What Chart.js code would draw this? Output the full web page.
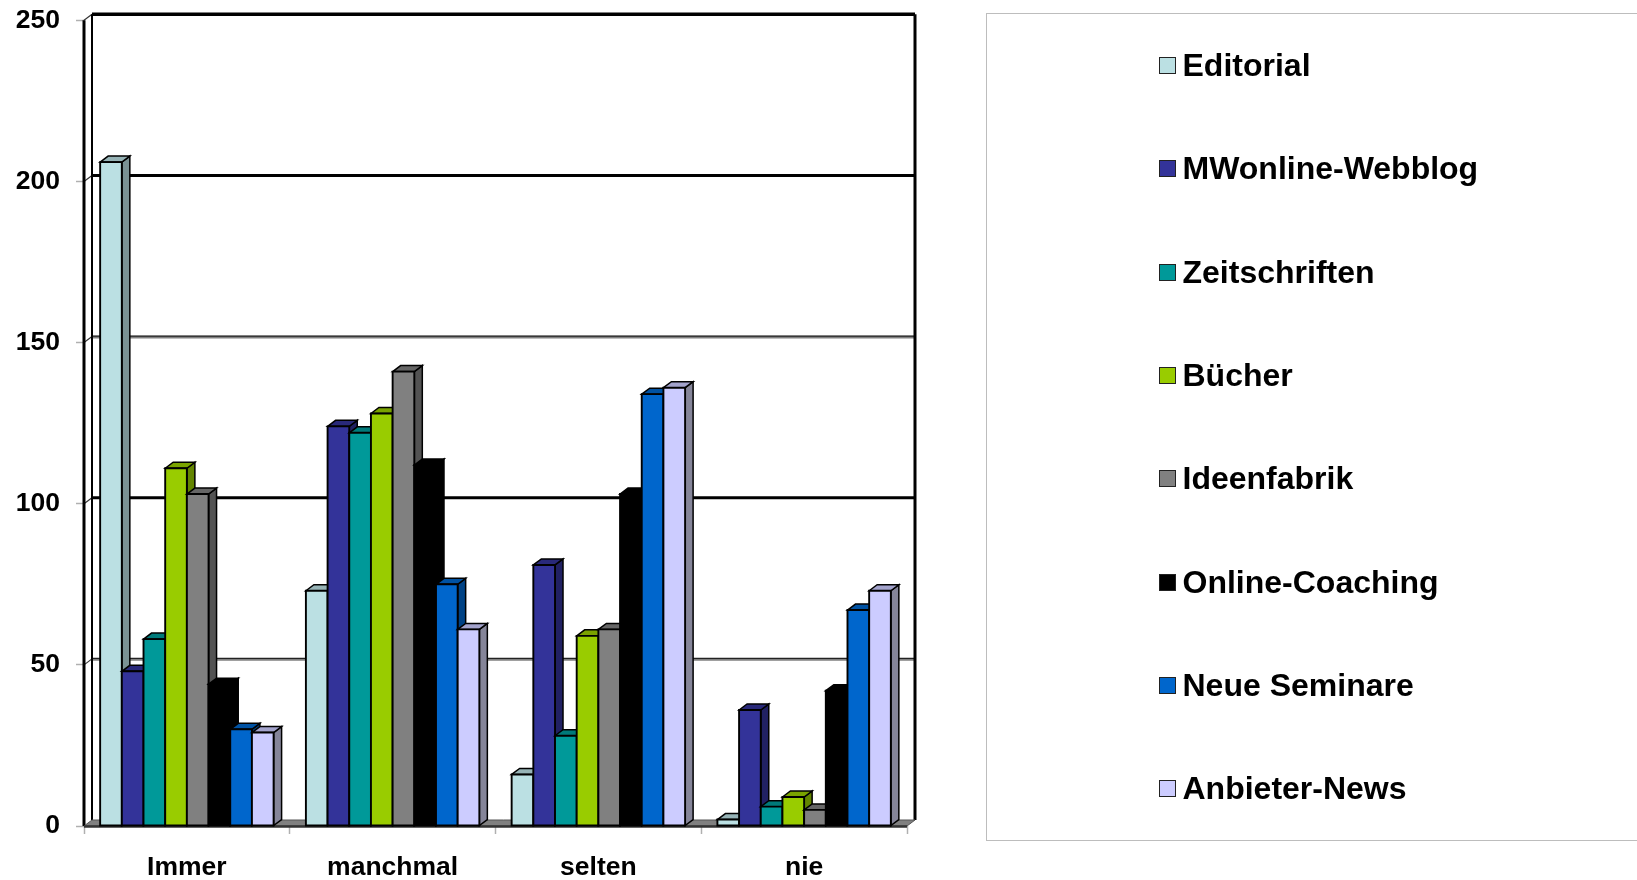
<!DOCTYPE html>
<html lang="de">
<head>
<meta charset="utf-8">
<title>Informationsquellen</title>
<script src="https://cdn.jsdelivr.net/npm/chart.js@4"></script>
<style>
  html, body { margin: 0; padding: 0; background: #fff; overflow: hidden; }
  #wrap { position: relative; width: 1637px; height: 880px; }
  #chart { position: absolute; left: 0; top: 0; }
  #legend {
    position: absolute; left: 986px; top: 13px; width: 660px; height: 828px;
    border: 1.5px solid #bdbdbd; box-sizing: border-box;
    font: bold 32px "Liberation Sans", Arial, sans-serif; color: #000;
  }
  .row { position: absolute; left: 172px; height: 40px; line-height: 40px; white-space: nowrap; }
  .swatch {
    position: absolute; left: 0; top: 12px; width: 15px; height: 15px;
    border: 1px solid #222; box-sizing: content-box;
  }
  .row span.name { margin-left: 23.5px; }
</style>
</head>
<body>
<div id="wrap">
  <canvas id="chart" width="1637" height="880"></canvas>
  <div id="legend"></div>
</div>
<script>
const categories = ['Immer', 'manchmal', 'selten', 'nie'];

const seriesNames = ['Editorial', 'MWonline-Webblog', 'Zeitschriften', 'Bücher',
  'Ideenfabrik', 'Online-Coaching', 'Neue Seminare', 'Anbieter-News'];

const editorial = [206, 73, 16, 2];
const mwonline = [48, 124, 81, 36];
const zeitschriften = [58, 122, 28, 6];
const buecher = [111, 128, 59, 9];
const ideenfabrik = [103, 141, 61, 5];
const onlineCoaching = [44, 112, 103, 42];
const neueSeminare = [30, 75, 134, 67];
const anbieterNews = [29, 61, 136, 73];

const seriesValues = [editorial, mwonline, zeitschriften, buecher,
  ideenfabrik, onlineCoaching, neueSeminare, anbieterNews];

// front colour, top face, side face
const frontColors = ['#BBE0E3', '#333399', '#009999', '#99CC00', '#808080', '#000000', '#0066CC', '#CCCCFF'];
const topColors = ['#96B3B6', '#29297A', '#007A7A', '#7AA300', '#666666', '#000000', '#0052A3', '#A3A3CC'];
const sideColors = ['#7A9294', '#212163', '#006363', '#638500', '#535353', '#000000', '#004285', '#858599'];

const DEPTH_X = 8;
const DEPTH_Y = 6;

function poly(ctx, pts, fill, stroke, lw) {
  ctx.beginPath();
  pts.forEach((p, i) => (i ? ctx.lineTo(p[0], p[1]) : ctx.moveTo(p[0], p[1])));
  ctx.closePath();
  if (fill) { ctx.fillStyle = fill; ctx.fill(); }
  if (stroke) { ctx.strokeStyle = stroke; ctx.lineWidth = lw; ctx.stroke(); }
}

function line(ctx, x1, y1, x2, y2, color, lw) {
  ctx.beginPath();
  ctx.moveTo(x1, y1);
  ctx.lineTo(x2, y2);
  ctx.strokeStyle = color;
  ctx.lineWidth = lw;
  ctx.stroke();
}

// Rueckwand, Boden und Gitternetz hinter den Balken
const wallPlugin = {
  id: 'wall',
  beforeDatasetsDraw(chart) {
    const ctx = chart.ctx;
    const { left, right, top, bottom } = chart.chartArea;
    const y = chart.scales.y;
    ctx.save();

    y.ticks.forEach(t => {
      const py = y.getPixelForValue(t.value);
      if (t.value === 0) return;
      const by = py - DEPTH_Y;
      if (t.value === 250) {
        line(ctx, left + DEPTH_X, by, right + DEPTH_X, by, '#000', 3.4);
      } else if (t.value % 100 === 0) {
        line(ctx, left + DEPTH_X, by, right + DEPTH_X, by, '#000', 3);
      } else {
        line(ctx, left + DEPTH_X, by + 0.5, right + DEPTH_X, by + 0.5, '#808080', 2.8);
        line(ctx, left + DEPTH_X, by - 0.5, right + DEPTH_X, by - 0.5, '#222', 1.2);
      }
      line(ctx, left, py, left + DEPTH_X, by, '#333', 1.2);
    });

    // Waende
    line(ctx, left + DEPTH_X, top - DEPTH_Y, left + DEPTH_X, bottom - DEPTH_Y, '#000', 2);
    line(ctx, left, top, left, bottom, '#000', 3);
    line(ctx, right + DEPTH_X, top - DEPTH_Y, right + DEPTH_X, bottom - DEPTH_Y, '#000', 3);

    // Boden
    poly(ctx, [[left, bottom], [right, bottom], [right + DEPTH_X, bottom - DEPTH_Y], [left + DEPTH_X, bottom - DEPTH_Y]],
      '#808080', '#555', 1);
    line(ctx, left, bottom + 0.5, right, bottom + 0.5, '#333', 2.5);
    ctx.restore();
  }
};

// 3D-Balken: von links nach rechts, der rechte Nachbar verdeckt die Seite
const bars3dPlugin = {
  id: 'bars3d',
  beforeDatasetDraw() {
    return false;
  },
  afterDatasetsDraw(chart) {
    const ctx = chart.ctx;
    ctx.save();
    ctx.lineJoin = 'miter';
    categories.forEach((c, ci) => {
      seriesValues.forEach((vals, si) => {
        const bar = chart.getDatasetMeta(si).data[ci];
        const l = bar.x - bar.width / 2;
        const r = bar.x + bar.width / 2;
        const t = bar.y;
        const b = bar.base;
        poly(ctx, [[r, t], [r + DEPTH_X, t - DEPTH_Y], [r + DEPTH_X, b - DEPTH_Y], [r, b]], sideColors[si], '#000', 1.5);
        poly(ctx, [[l, t], [l + DEPTH_X, t - DEPTH_Y], [r + DEPTH_X, t - DEPTH_Y], [r, t]], topColors[si], '#000', 1.5);
        poly(ctx, [[l, t], [r, t], [r, b], [l, b]], frontColors[si], '#000', 1.9);
      });
    });
    ctx.restore();
  }
};

const axisFont = { family: '"Liberation Sans", Arial, sans-serif', size: 26.5, weight: 'bold' };

new Chart(document.getElementById('chart'), {
  type: 'bar',
  data: {
    labels: categories,
    datasets: seriesNames.map((name, i) => ({
      label: name,
      data: seriesValues[i],
      backgroundColor: frontColors[i]
    }))
  },
  options: {
    responsive: false,
    animation: false,
    layout: { padding: { left: 0, top: 20.3, right: 730, bottom: 0 } },
    datasets: { bar: { categoryPercentage: 0.843, barPercentage: 1 } },
    plugins: { legend: { display: false }, tooltip: { enabled: false } },
    scales: {
      x: {
        grid: { drawOnChartArea: false, tickLength: 8, tickColor: '#b0b0b0', tickWidth: 1.5, offset: true },
        border: { display: false },
        ticks: { color: '#000', font: axisFont, padding: 18, maxRotation: 0 },
        afterFit(s) { s.height = 54; s.paddingLeft = 0; s.paddingRight = 0; }
      },
      y: {
        min: 0,
        max: 250,
        grid: { drawOnChartArea: false, tickLength: 8, tickColor: '#b0b0b0', tickWidth: 1.5 },
        border: { display: false },
        ticks: { stepSize: 50, color: '#000', font: axisFont, padding: 16 },
        afterFit(s) { s.width = 84; s.paddingTop = 0; s.paddingBottom = 0; }
      }
    }
  },
  plugins: [wallPlugin, bars3dPlugin]
});

// Legende
const legendEl = document.getElementById('legend');
seriesNames.forEach((name, i) => {
  const row = document.createElement('div');
  row.className = 'row';
  row.style.top = (31 + i * 103.3) + 'px';
  row.innerHTML = `<i class="swatch" style="background:${frontColors[i]}"></i><span class="name">${name}</span>`;
  legendEl.appendChild(row);
});
</script>
</body>
</html>
